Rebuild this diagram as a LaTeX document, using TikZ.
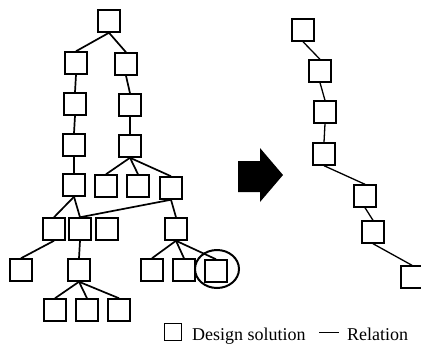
\documentclass[tikz,border=0pt]{standalone}
\usepackage{fontspec}
\setmainfont{Liberation Serif}
\usetikzlibrary{shapes.geometric}
\begin{document}
\begin{tikzpicture}[x=1pt,y=-1pt,
  box/.style={draw,line width=2pt,minimum size=21.5pt,inner sep=0pt},
  rbox/.style={draw,line width=1.4pt,minimum size=22pt,inner sep=0pt},
  rel/.style={line width=1.7pt},
  rrel/.style={line width=1.3pt},
  lab/.style={anchor=base west,inner sep=0pt,font=\fontsize{18}{20}\selectfont}]
\useasboundingbox (0,0) rectangle (421,346);
\clip (0,0) rectangle (421,346);
% left tree
\node[box] (T) at (109,21) {};
\node[box] (A1) at (76,63) {};
\node[box] (B1) at (126,64) {};
\node[box] (A2) at (75,104) {};
\node[box] (B2) at (130,105) {};
\node[box] (A3) at (74,145) {};
\node[box] (B3) at (130,146) {};
\node[box] (C1) at (74,185) {};
\node[box] (C2) at (106,186) {};
\node[box] (C3) at (138,186) {};
\node[box] (C4) at (171,188) {};
\node[box] (D1) at (54,229) {};
\node[box] (D2) at (80,229) {};
\node[box] (D3) at (107,229) {};
\node[box] (D4) at (176,229) {};
\node[box] (E1) at (21,270) {};
\node[box] (E2) at (79,270) {};
\node[box] (F1) at (152,270) {};
\node[box] (F2) at (184,270) {};
\node[box] (F3) at (216,271) {};
\node[box] (G1) at (55,310) {};
\node[box] (G2) at (87,310) {};
\node[box] (G3) at (119,310) {};
\foreach \p/\c in {T/A1,T/B1,A1/A2,B1/B2,A2/A3,B2/B3,A3/C1,B3/C2,B3/C3,B3/C4,
  C1/D1,C1/D2,C4/D2,C4/D4,D1/E1,D2/E2,E2/G1,E2/G2,E2/G3,D4/F1,D4/F2,D4/F3}
  \draw[rel] (\p.south) -- (\c.north);
\node[draw,line width=2pt,ellipse,minimum width=44pt,minimum height=38pt,inner sep=0pt] (O) at (217,269) {};
% arrow
\fill (238,161) -- (260,161) -- (260,148) -- (283,175) -- (260,202) -- (260,192) -- (238,192) -- cycle;
% right chain
\node[rbox] (R1) at (303,30) {};
\node[rbox] (R2) at (320,71) {};
\node[rbox] (R3) at (325,112) {};
\node[rbox] (R4) at (324,154) {};
\node[rbox] (R5) at (365,196) {};
\node[rbox] (R6) at (373,232) {};
\node[rbox] (R7) at (412,277) {};
\foreach \p/\c in {R1/R2,R2/R3,R3/R4,R4/R5,R5/R6,R6/R7}
  \draw[rrel] (\p.south) -- (\c.north);
% legend
\node[draw,line width=1.3pt,minimum size=17pt,inner sep=0pt] (L) at (173,332) {};
\node[lab] (LT1) at (192,340) {Design solution};
\coordinate (LA) at (319,332);
\coordinate (LB) at (339,332);
\draw[line width=0.8pt] (LA) -- (LB);
\node[lab] (LT2) at (347,340) {Relation};
\end{tikzpicture}
\end{document}
